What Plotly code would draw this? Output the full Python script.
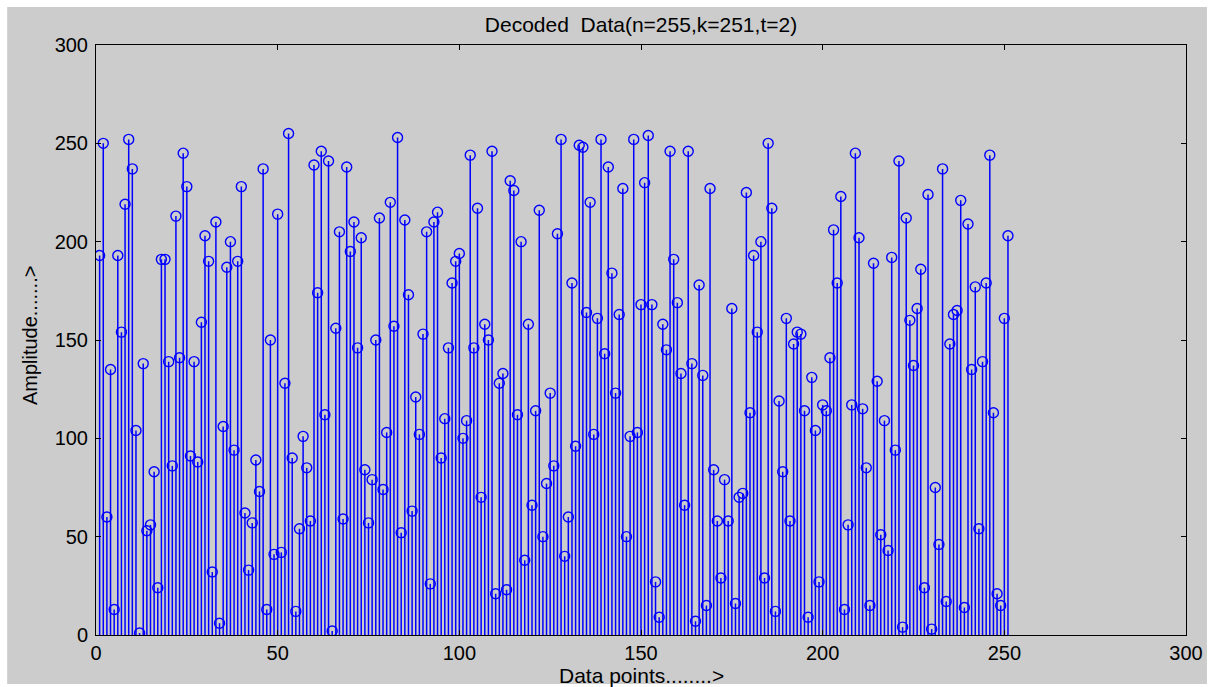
import plotly.graph_objects as go

# Decoded data values (index 1..251)
amplitude = [
    193, 250, 60, 135, 13, 193, 154, 219, 252, 237,
    104, 1, 138, 53, 56, 83, 24, 191, 191, 139,
    86, 213, 141, 245, 228, 91, 139, 88, 159, 203,
    190, 32, 210, 6, 106, 187, 200, 94, 190, 228,
    62, 33, 57, 89, 73, 237, 13, 150, 41, 214,
    42, 128, 255, 90, 12, 54, 101, 85, 58, 239,
    174, 246, 112, 241, 2, 156, 205, 59, 238, 195,
    210, 146, 202, 84, 57, 79, 150, 212, 74, 103,
    220, 157, 253, 52, 211, 173, 63, 121, 102, 153,
    205, 26, 210, 215, 90, 110, 146, 179, 190, 194,
    100, 109, 244, 146, 217, 70, 158, 150, 246, 21,
    128, 133, 23, 231, 226, 112, 200, 38, 158, 66,
    114, 216, 50, 77, 123, 86, 204, 252, 40, 60,
    179, 96, 249, 248, 164, 220, 102, 161, 252, 143,
    238, 184, 123, 163, 227, 50, 101, 252, 103, 168,
    230, 254, 168, 27, 9, 158, 145, 246, 191, 169,
    133, 66, 246, 138, 7, 178, 132, 15, 227, 84,
    58, 29, 79, 58, 166, 16, 70, 72, 225, 113,
    193, 154, 200, 29, 250, 217, 12, 119, 83, 161,
    58, 148, 154, 153, 114, 9, 131, 104, 27, 117,
    114, 141, 206, 179, 223, 13, 56, 117, 245, 202,
    115, 85, 15, 189, 129, 51, 109, 43, 192, 94,
    241, 4, 212, 160, 137, 166, 186, 24, 224, 3,
    75, 46, 237, 17, 148, 163, 165, 221, 14, 209,
    135, 177, 54, 139, 179, 244, 113, 21, 15, 161,
    203,
]
data_points = list(range(1, len(amplitude) + 1))

x_ticks = [0, 50, 100, 150, 200, 250, 300]
y_ticks = [0, 50, 100, 150, 200, 250, 300]

title_text = "Decoded  Data(n=255,k=251,t=2)"
x_title = "Data points........>"
y_title = "Amplitude.......>"

# stems
sx, sy = [], []
for xv, yv in zip(data_points, amplitude):
    sx += [xv, xv, None]
    sy += [0, yv, None]

BLUE = "#0000ff"
FONT = "Liberation Sans, Arial, sans-serif"

fig = go.Figure()
fig.add_trace(go.Scatter(x=sx, y=sy, mode="lines",
                         line=dict(color=BLUE, width=1.5), hoverinfo="skip",
                         showlegend=False))
fig.add_trace(go.Scatter(x=data_points, y=amplitude, mode="markers",
                         marker=dict(symbol="circle-open", size=10,
                                     color=BLUE, line=dict(color=BLUE, width=1.4)),
                         showlegend=False))

L, R, T, B = 96, 27, 45, 52
W, H = 1215, 687
pw, ph = W - L - R, H - T - B

axis_common = dict(showgrid=False, zeroline=False, showline=True,
                   linecolor="black", linewidth=1, mirror="ticks",
                   ticks="inside", ticklen=5, tickcolor="black",
                   tickfont=dict(family=FONT, size=20, color="black"))

fig.update_xaxes(range=[0, 300], tickvals=x_ticks, **axis_common)
fig.update_yaxes(range=[0, 300], tickvals=y_ticks, ticklabelstandoff=3, **axis_common)

fig.update_layout(
    width=W, height=H,
    margin=dict(l=L, r=R, t=T, b=B),
    paper_bgcolor="white",
    plot_bgcolor="white",
    title=dict(text=title_text, x=0.5, xref="paper", y=1 - 25 / H,
               yref="container", yanchor="middle",
               font=dict(family=FONT, size=21, color="black")),
    shapes=[dict(type="rect", xref="paper", yref="paper", layer="below",
                 x0=(7 - L) / pw, x1=(1209 - L) / pw,
                 y0=(H - B - 684) / ph, y1=(H - B - 7) / ph,
                 fillcolor="#cccccc", line=dict(width=0))],
    annotations=[
        dict(text=x_title, xref="paper", yref="paper", x=0.5,
             y=(H - B - 675) / ph, showarrow=False, xanchor="center",
             yanchor="middle", font=dict(family=FONT, size=21, color="black")),
        dict(text=y_title, xref="paper", yref="paper", x=(30 - L) / pw,
             y=(H - B - 335) / ph, showarrow=False, textangle=-90,
             xanchor="center", yanchor="middle",
             font=dict(family=FONT, size=20, color="black")),
    ],
)

fig.write_html("out.html", config={"displayModeBar": False},
               post_script="document.body.style.margin='0';document.body.style.overflow='hidden';")
